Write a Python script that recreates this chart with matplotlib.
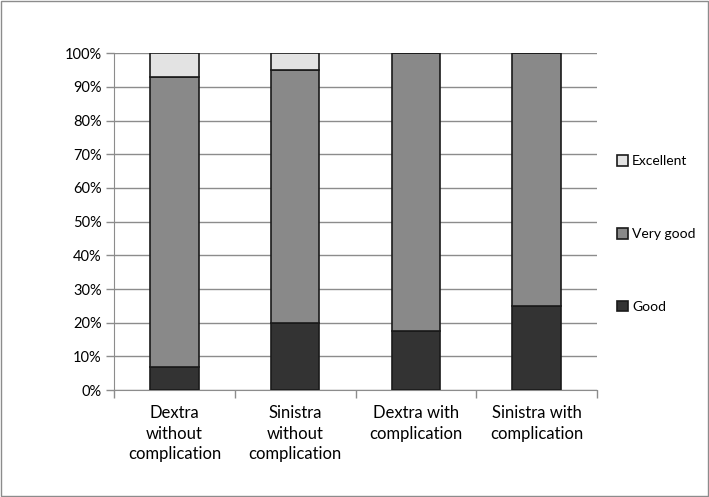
import matplotlib
matplotlib.use("Agg")
import matplotlib.pyplot as plt
from matplotlib.patches import Rectangle
import numpy as np

categories = ["Dextra\nwithout\ncomplication", "Sinistra\nwithout\ncomplication",
              "Dextra with\ncomplication", "Sinistra with\ncomplication"]
good = [7, 20, 17.5, 25]
very_good = [86, 75, 82.5, 75]
excellent = [7, 5, 0, 0]
series_names = ["Good", "Very good", "Excellent"]
colors = ["#333333", "#898989", "#e3e3e3"]

plt.rcParams['font.family'] = ['Lato', 'DejaVu Sans']

fig = plt.figure(figsize=(7.09, 4.97), dpi=100)
ax = fig.add_axes([0.161, 0.215, 0.681, 0.678])

x = np.arange(len(categories))
bottom = np.zeros(len(categories))
handles = []
for vals, name, c in zip([good, very_good, excellent], series_names, colors):
    vals = np.array(vals, dtype=float)
    b = ax.bar(x, vals, 0.4, bottom=bottom, color=c, edgecolor="#1a1a1a",
               linewidth=1.2, label=name, zorder=3)
    handles.append(b)
    bottom += vals

ax.set_xlim(-0.5, len(categories) - 0.5)
ax.set_ylim(0, 100)
ax.set_yticks(np.arange(0, 101, 10))
ax.set_yticklabels([f"{v}%" for v in range(0, 101, 10)], fontsize=10.5)
ax.yaxis.grid(True, color="#8c8c8c", linewidth=1, zorder=0)
ax.set_axisbelow(True)

ax.set_xticks(np.arange(-0.5, len(categories), 1.0))
ax.set_xticklabels([])
ax.set_xticks(x, minor=True)
ax.set_xticklabels(categories, minor=True, fontsize=12, linespacing=1.32)
ax.tick_params(axis='x', which='minor', length=0, pad=11)
ax.tick_params(axis='x', which='major', length=6, color="#8c8c8c", width=1)
ax.tick_params(axis='y', length=6, color="#8c8c8c", width=1, pad=3)

for s in ["top", "right"]:
    ax.spines[s].set_visible(False)
ax.spines["left"].set_color("#8c8c8c")
ax.spines["bottom"].set_color("#8c8c8c")

leg = fig.legend(handles[::-1], series_names[::-1], loc="upper left",
                 bbox_to_anchor=(0.862, 0.699), frameon=False, fontsize=10,
                 labelspacing=4.37, handlelength=0.8, handleheight=0.8,
                 handletextpad=0.3, borderaxespad=0)

fig.patches.append(Rectangle((0.002, 0.002), 0.996, 0.996, transform=fig.transFigure,
                             fill=False, edgecolor="#8c8c8c", linewidth=1))

fig.savefig("out.png", dpi=100)
